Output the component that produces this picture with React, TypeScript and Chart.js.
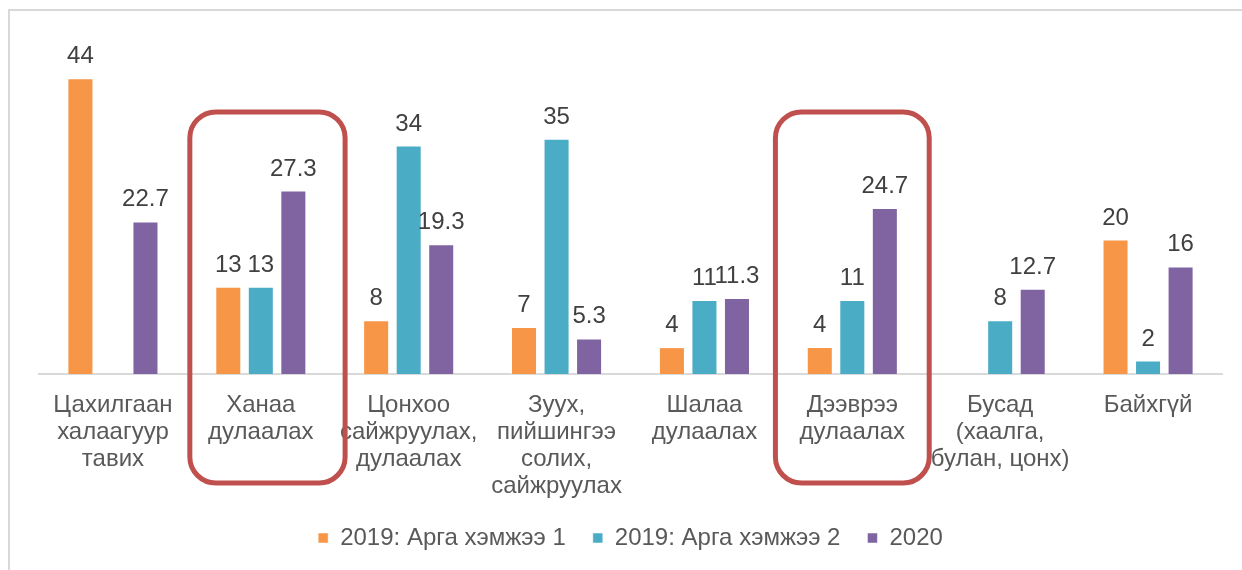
import React, { useEffect, useRef } from "react";
import { Chart, registerables } from "chart.js";

Chart.register(...registerables);

const categories: string[][] = [
  ["Цахилгаан", "халаагуур", "тавих"],
  ["Ханаа", "дулаалах"],
  ["Цонхоо", "сайжруулах,", "дулаалах"],
  ["Зуух,", "пийшингээ", "солих,", "сайжруулах"],
  ["Шалаа", "дулаалах"],
  ["Дээврээ", "дулаалах"],
  ["Бусад", "(хаалга,", "булан, цонх)"],
  ["Байхгүй"],
];

const seriesNames = ["2019: Арга хэмжээ 1", "2019: Арга хэмжээ 2", "2020"];
const measure1: (number | null)[] = [44, 13, 8, 7, 4, 4, null, 20];
const measure2: (number | null)[] = [null, 13, 34, 35, 11, 11, 8, 2];
const year2020: (number | null)[] = [22.7, 27.3, 19.3, 5.3, 11.3, 24.7, 12.7, 16];
const seriesColors = ["#F79646", "#4BACC6", "#8064A2"];

// highlighted categories with their box extents (fractions of a category width)
const highlightIndex = [1, 5];
const highlightLeft = [0.48, 0.52];
const highlightRight = [0.57, 0.52];
const highlightTopValue = 39;

const Y_MAX = 50;
const FONT = "'Liberation Sans', Arial, sans-serif";
const FONT_SIZE = 24;

const valueLabels = {
  id: "valueLabels",
  afterDatasetsDraw(chart: any) {
    const ctx = chart.ctx;
    ctx.save();
    ctx.font = `${FONT_SIZE}px ${FONT}`;
    ctx.fillStyle = "#404040";
    ctx.textAlign = "center";
    ctx.textBaseline = "alphabetic";
    chart.data.datasets.forEach((ds: any, di: number) => {
      const meta = chart.getDatasetMeta(di);
      meta.data.forEach((el: any, i: number) => {
        const v = ds.data[i];
        if (v === null || v === undefined) return;
        ctx.fillText(String(v), el.x, el.y - 15);
      });
    });
    ctx.restore();
  },
};

const frame = {
  id: "frame",
  beforeDraw(chart: any) {
    const ctx = chart.ctx;
    ctx.save();
    ctx.strokeStyle = "#d9d9d9";
    ctx.lineWidth = 2;
    ctx.strokeRect(9, 10, chart.width + 50, chart.height + 50);
    ctx.restore();
  },
};

const highlights = {
  id: "highlights",
  afterDraw(chart: any) {
    const ctx = chart.ctx;
    const x = chart.scales.x;
    const y = chart.scales.y;
    const catW = (x.right - x.left) / categories.length;
    ctx.save();
    ctx.strokeStyle = "#C0504D";
    ctx.lineWidth = 5;
    highlightIndex.forEach((idx, k) => {
      const cx = x.getPixelForValue(idx);
      const left = cx - highlightLeft[k] * catW;
      const right = cx + highlightRight[k] * catW;
      const top = y.getPixelForValue(highlightTopValue);
      const bottom = chart.chartArea.bottom + 109;
      const r = 26;
      ctx.beginPath();
      ctx.moveTo(left + r, top);
      ctx.lineTo(right - r, top);
      ctx.arcTo(right, top, right, top + r, r);
      ctx.lineTo(right, bottom - r);
      ctx.arcTo(right, bottom, right - r, bottom, r);
      ctx.lineTo(left + r, bottom);
      ctx.arcTo(left, bottom, left, bottom - r, r);
      ctx.lineTo(left, top + r);
      ctx.arcTo(left, top, left + r, top, r);
      ctx.closePath();
      ctx.stroke();
    });
    ctx.restore();
  },
};

export default function App() {
  const ref = useRef<HTMLCanvasElement>(null);
  useEffect(() => {
    if (!ref.current) return;
    const series = [measure1, measure2, year2020];
    const chart = new Chart(ref.current, {
      type: "bar",
      data: {
        labels: categories,
        datasets: series.map((d, i) => ({
          label: seriesNames[i],
          data: d,
          backgroundColor: seriesColors[i],
          borderColor: "rgba(255,255,255,0.5)",
          borderWidth: 1,
          categoryPercentage: 0.66,
          barPercentage: 0.8,
        })),
      },
      options: {
        responsive: false,
        animation: false,
        layout: { padding: { top: 38, left: 39, right: 20, bottom: 10 } },
        plugins: {
          legend: {
            position: "bottom",
            labels: {
              boxWidth: 10,
              boxHeight: 10,
              padding: 27,
              color: "#595959",
              font: { family: FONT, size: FONT_SIZE },
            },
          },
          tooltip: { enabled: false },
        },
        scales: {
          x: {
            grid: { display: true, drawOnChartArea: false, drawTicks: false, color: "rgba(0,0,0,0)" },
            border: { display: true, color: "#d9d9d9", width: 2 },
            ticks: {
              color: "#595959",
              font: { family: FONT, size: FONT_SIZE, lineHeight: 1.125 },
              maxRotation: 0,
              autoSkip: false,
              padding: 18,
            },
            afterFit(scale: any) {
              scale.height = 125;
            },
          },
          y: {
            display: false,
            min: 0,
            max: Y_MAX,
          },
        },
      },
      plugins: [frame, valueLabels, highlights],
    });
    return () => chart.destroy();
  }, []);
  return (
    <div style={{ position: "fixed", left: 0, top: 0, width: 1242, height: 570, background: "#fff" }}>
      <canvas ref={ref} width={1242} height={570} />
    </div>
  );
}
